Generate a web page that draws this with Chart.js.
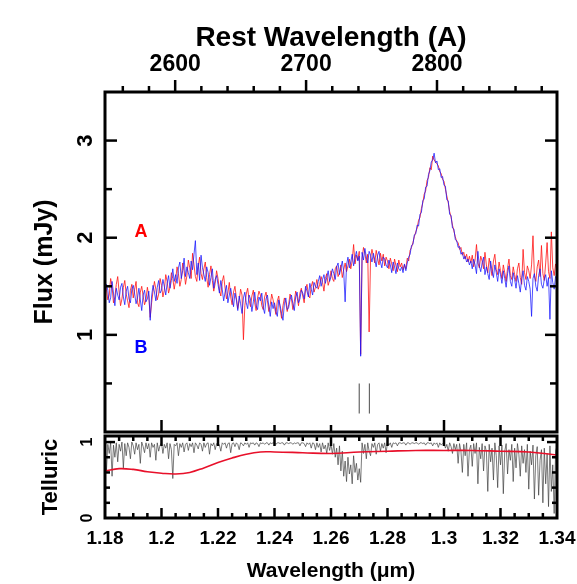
<!DOCTYPE html>
<html>
<head>
<meta charset="utf-8">
<script src="https://cdn.jsdelivr.net/npm/chart.js@4.4.1/dist/chart.umd.min.js"></script>
<style>
  html, body { margin: 0; padding: 0; background: #fff; }
  #wrap { position: relative; width: 577px; height: 584px; }
  canvas { position: absolute; left: 0; }
  #main { top: 0; }
  #tell { top: 434px; }
</style>
</head>
<body>
<div id="wrap">
  <canvas id="main" width="577" height="434"></canvas>
  <canvas id="tell" width="577" height="150"></canvas>
</div>
<script>
// Wavelength grid (microns): first sample and spacing of the spectra below
const lamStart = 1.18;
const lamStep = 0.0005;

// Spectrum A (red), mJy
const fluxA = [
  1.55,1.47,1.36,1.41,1.58,1.50,1.33,1.39,1.52,1.60,
  1.44,1.30,1.37,1.49,1.56,1.42,1.35,1.28,1.46,1.52,
  1.38,1.47,1.55,1.33,1.29,1.44,1.50,1.40,1.31,1.36,
  1.49,1.40,1.18,1.33,1.45,1.55,1.47,1.36,1.42,1.58,
  1.51,1.39,1.46,1.62,1.55,1.43,1.49,1.64,1.58,1.47,
  1.56,1.70,1.63,1.50,1.57,1.74,1.66,1.52,1.61,1.77,
  1.69,1.58,1.84,1.72,1.60,1.55,1.71,1.80,1.63,1.57,
  1.68,1.75,1.59,1.49,1.62,1.71,1.56,1.45,1.53,1.66,
  1.58,1.46,1.40,1.55,1.61,1.48,1.37,1.43,1.54,1.39,
  1.31,1.44,1.50,1.38,1.27,1.35,1.47,1.41,0.95,1.30,
  1.42,1.48,1.36,1.29,1.40,1.46,1.33,1.25,1.38,1.45,
  1.41,1.30,1.26,1.39,1.44,1.35,1.24,1.31,1.42,1.36,
  1.29,1.21,1.35,1.40,1.27,1.17,1.30,1.38,1.33,1.24,
  1.31,1.42,1.37,1.26,1.34,1.45,1.39,1.30,1.43,1.48,
  1.40,1.33,1.47,1.52,1.41,1.38,1.50,1.55,1.44,1.49,
  1.57,1.47,1.52,1.60,1.54,1.45,1.58,1.63,1.51,1.56,
  1.66,1.58,1.55,1.68,1.71,1.60,1.64,1.72,1.59,1.67,
  1.74,1.65,1.71,1.78,1.68,1.76,1.93,1.73,1.82,1.77,
  1.86,0.80,1.78,1.90,1.84,1.74,1.83,1.03,1.79,1.88,
  1.81,1.74,1.87,1.79,1.72,1.84,1.76,1.83,1.71,1.80,
  1.76,1.68,1.79,1.73,1.66,1.78,1.71,1.65,1.77,1.70,
  1.74,1.67,1.72,1.68,1.79,1.76,1.87,1.90,1.95,2.01,
  2.06,2.10,2.18,2.21,2.30,2.36,2.45,2.48,2.59,2.62,
  2.72,2.70,2.84,2.80,2.78,2.76,2.74,2.68,2.66,2.60,
  2.58,2.50,2.43,2.36,2.27,2.21,2.13,2.07,2.01,1.96,
  1.95,1.88,1.90,1.82,1.85,1.78,1.83,1.75,1.81,1.74,
  1.82,1.70,1.77,1.93,1.74,1.69,1.81,1.76,1.68,1.85,
  1.72,1.64,1.79,1.70,1.61,1.76,1.83,1.67,1.62,1.75,
  1.66,1.58,1.72,1.64,1.55,1.69,1.78,1.61,1.57,1.70,
  1.62,1.55,1.68,1.74,1.59,1.52,1.88,1.64,1.57,1.71,
  1.66,1.58,1.72,2.02,1.61,1.55,1.70,1.77,1.60,1.92,
  1.63,1.56,1.74,1.95,1.65,1.58,2.06,1.69,1.61,1.73,
  1.66
];

// Spectrum B (blue), mJy
const fluxB = [
  1.40,1.52,1.46,1.33,1.38,1.55,1.43,1.30,1.48,1.41,
  1.36,1.49,1.53,1.39,1.31,1.45,1.50,1.37,1.33,1.47,
  1.51,1.42,1.32,1.38,1.48,1.36,1.25,1.41,1.46,1.34,
  1.37,1.45,1.15,1.40,1.51,1.44,1.35,1.49,1.56,1.43,
  1.46,1.57,1.50,1.41,1.53,1.61,1.48,1.56,1.68,1.55,
  1.62,1.53,1.69,1.75,1.58,1.66,1.79,1.60,1.70,1.64,
  1.58,1.76,1.67,1.83,1.97,1.62,1.74,1.56,1.82,1.69,
  1.62,1.55,1.70,1.64,1.51,1.59,1.68,1.48,1.57,1.61,
  1.52,1.43,1.56,1.47,1.35,1.44,1.51,1.33,1.41,1.48,
  1.39,1.29,1.43,1.36,1.25,1.40,1.32,1.22,1.38,1.44,
  1.33,1.27,1.41,1.37,1.24,1.34,1.44,1.30,1.26,1.39,
  1.35,1.43,1.28,1.22,1.37,1.41,1.29,1.19,1.34,1.27,
  1.33,1.24,1.19,1.36,1.30,1.22,1.15,1.32,1.38,1.26,
  1.28,1.36,1.41,1.32,1.25,1.39,1.44,1.33,1.37,1.46,
  1.43,1.37,1.50,1.45,1.39,1.53,1.47,1.41,1.54,1.50,
  1.48,1.55,1.61,1.50,1.57,1.62,1.53,1.59,1.66,1.55,
  1.60,1.68,1.63,1.57,1.70,1.74,1.62,1.69,1.76,1.65,
  1.34,1.72,1.80,1.69,1.75,1.83,1.71,1.79,1.86,1.76,
  1.81,0.78,1.85,1.77,1.89,1.80,1.74,1.86,1.82,1.75,
  1.84,1.77,1.70,1.82,1.86,1.75,1.69,1.80,1.78,1.72,
  1.69,1.77,1.72,1.64,1.75,1.70,1.63,1.74,1.68,1.66,
  1.70,1.64,1.73,1.66,1.74,1.80,1.83,1.92,1.93,2.03,
  2.04,2.13,2.12,2.24,2.26,2.38,2.40,2.52,2.53,2.65,
  2.69,2.78,2.80,2.87,2.77,2.79,2.70,2.71,2.62,2.63,
  2.54,2.53,2.39,2.38,2.24,2.23,2.10,2.09,1.98,1.97,
  1.90,1.91,1.83,1.85,1.78,1.81,1.75,1.78,1.72,1.76,
  1.68,1.78,1.72,1.63,1.86,1.71,1.65,1.74,1.80,1.62,
  1.70,1.63,1.57,1.76,1.66,1.59,1.72,1.64,1.55,1.68,
  1.62,1.53,1.66,1.58,1.49,1.63,1.71,1.55,1.50,1.64,
  1.57,1.48,1.61,1.53,1.44,1.58,1.66,1.51,1.46,1.60,
  1.55,1.47,1.19,1.58,1.63,1.50,1.45,1.61,1.68,1.52,
  1.48,1.57,1.62,1.50,1.59,1.16,1.66,1.54,1.47,1.60,
  1.58
];

// Atmospheric transmission on the same grid
const telluric = [
  0.99,0.62,0.97,0.85,1.00,0.55,0.96,0.80,0.99,0.74,
  0.97,0.88,1.00,0.66,0.98,0.82,0.99,0.93,0.78,1.00,
  0.95,0.84,0.99,0.90,0.97,0.72,1.00,0.94,0.86,0.99,
  0.91,0.98,0.80,0.99,0.93,0.97,0.76,0.99,0.88,0.96,
  0.99,0.85,0.97,0.92,0.99,0.78,0.98,0.90,0.52,0.97,
  0.95,0.99,0.82,0.98,0.93,0.99,0.87,0.97,0.99,0.89,
  0.98,0.94,0.99,0.86,0.99,0.96,0.91,0.99,0.97,0.88,
  0.99,0.93,0.98,0.99,0.84,0.98,0.95,0.99,0.90,0.98,
  0.99,0.96,0.88,0.99,0.97,0.99,0.92,0.98,0.99,0.86,
  0.98,0.99,0.94,0.99,0.97,0.90,0.99,0.98,0.95,0.99,
  0.97,0.99,0.93,0.99,0.98,0.99,0.96,0.99,0.98,0.94,
  0.99,0.98,0.99,0.97,0.99,0.99,0.96,0.99,0.98,0.99,
  0.99,0.97,0.99,0.99,0.98,0.99,0.99,0.96,0.99,0.99,
  0.98,0.99,0.99,0.97,0.99,0.98,0.99,0.99,0.95,0.99,
  0.99,0.98,0.94,0.99,0.97,0.99,0.92,0.99,0.98,0.90,
  0.99,0.93,0.98,0.87,0.99,0.91,0.96,0.85,0.99,0.89,
  0.97,0.84,0.98,0.80,0.92,0.70,0.95,0.62,0.88,0.55,
  0.75,0.48,0.80,0.58,0.70,0.45,0.82,0.60,0.72,0.50,
  0.65,0.47,0.99,0.85,0.97,0.78,0.99,0.88,0.82,0.98,
  0.93,0.99,0.84,0.97,0.99,0.88,0.98,0.92,0.99,0.86,
  0.99,0.96,0.99,0.93,0.99,0.98,0.99,0.95,0.99,0.99,
  0.98,0.99,0.99,0.96,0.99,0.99,0.97,0.99,0.99,0.98,
  0.99,0.99,0.97,0.99,0.99,0.98,0.99,0.96,0.99,0.99,
  0.98,0.99,0.95,0.99,0.97,0.99,0.93,0.99,0.96,0.98,
  0.99,0.92,0.97,0.88,0.99,0.94,0.85,0.98,0.90,0.97,
  0.72,0.98,0.88,0.60,0.97,0.82,0.99,0.55,0.90,0.96,
  0.68,0.98,0.85,0.99,0.45,0.93,0.78,0.98,0.62,0.95,
  0.88,0.35,0.97,0.74,0.92,0.50,0.99,0.82,0.40,0.95,
  0.70,0.96,0.32,0.88,0.98,0.58,0.90,0.76,0.97,0.48,
  0.92,0.66,0.98,0.84,0.55,0.95,0.72,0.90,0.60,0.97,
  0.38,0.88,0.70,0.96,0.25,0.82,0.94,0.30,0.76,0.90,
  0.20,0.92,0.45,0.85,0.15,0.95,0.35,0.70,0.06,0.88,
  0.95
];

// Smooth red curve in the telluric panel
const contLam = [1.18,1.185,1.19,1.195,1.20,1.205,1.21,1.215,1.22,1.225,1.23,1.235,1.24,1.25,1.26,1.27,1.28,1.29,1.30,1.31,1.32,1.33,1.34];
const contVal = [0.62,0.65,0.64,0.61,0.59,0.58,0.60,0.66,0.73,0.79,0.84,0.87,0.87,0.86,0.85,0.87,0.88,0.89,0.89,0.89,0.88,0.87,0.83];

// Two short grey markers under the absorption lines
const markLam = [1.2700, 1.2736];
const markFlux = [0.19, 0.50];

// Axis ranges and tick labels
const lamMin = 1.18, lamMax = 1.34;
const onePlusZ = 4.634;              // obs / rest
const restLabels = [2600, 2700, 2800];
const fluxLabels = [1, 2, 3];
const tellLabels = [0, 1];
const lamLabels = [1.18, 1.2, 1.22, 1.24, 1.26, 1.28, 1.3, 1.32, 1.34];

const FONT = 'Liberation Sans';

function series(vals) {
  return vals.map((v, i) => ({ x: lamStart + i * lamStep, y: v }));
}

function steps(a, b, step) {
  const out = [];
  for (let k = 0; a + k * step <= b + 1e-9; k++) out.push(+(a + k * step).toFixed(4));
  return out;
}

function seg(ctx, x1, y1, x2, y2) {
  ctx.beginPath();
  ctx.moveTo(x1, y1);
  ctx.lineTo(x2, y2);
  ctx.stroke();
}

function rotLabel(ctx, text, x, y, size) {
  ctx.save();
  ctx.translate(x, y);
  ctx.rotate(-Math.PI / 2);
  ctx.font = `bold ${size}px "${FONT}"`;
  ctx.fillStyle = '#000';
  ctx.textAlign = 'center';
  ctx.textBaseline = 'middle';
  ctx.fillText(text, 0, 0);
  ctx.restore();
}

const near = (v, list) => list.some(t => Math.abs(v - t) < 1e-6);

// Frame, inward/outward ticks and rotated y labels, PGPLOT style
const mainFrame = {
  id: 'mainFrame',
  afterDraw(chart) {
    const { ctx, chartArea: a, scales } = chart;
    const x = scales.x, y = scales.y, xr = scales.xTop;
    ctx.save();
    ctx.strokeStyle = '#000';
    ctx.lineWidth = 2.5;
    steps(1.20, 1.32, 0.02).forEach(v => {
      const px = x.getPixelForValue(v);
      seg(ctx, px, a.bottom, px, a.bottom - (near(v, [1.2, 1.3]) ? 12 : 7));
    });
    steps(2560, 2880, 20).forEach(v => {
      const px = xr.getPixelForValue(v);
      seg(ctx, px, a.top, px, a.top - (v % 100 === 0 ? 12 : 6));
    });
    steps(0.5, 3, 0.5).forEach(v => {
      const py = y.getPixelForValue(v);
      const len = Number.isInteger(v) ? 12 : 7;
      seg(ctx, a.left, py, a.left + len, py);
      seg(ctx, a.right, py, a.right - len, py);
    });
    ctx.lineWidth = 3;
    ctx.strokeRect(a.left, a.top, a.right - a.left, a.bottom - a.top);
    fluxLabels.forEach(v => rotLabel(ctx, String(v), 86, y.getPixelForValue(v), 22));

    ctx.font = `bold 18px "${FONT}"`;
    ctx.textAlign = 'center';
    ctx.textBaseline = 'middle';
    ctx.fillStyle = '#ff0000';
    ctx.fillText('A', x.getPixelForValue(1.1927), y.getPixelForValue(2.06));
    ctx.fillStyle = '#0000ff';
    ctx.fillText('B', x.getPixelForValue(1.1927), y.getPixelForValue(0.86));
    ctx.restore();
  }
};

const tellFrame = {
  id: 'tellFrame',
  afterDraw(chart) {
    const { ctx, chartArea: a, scales } = chart;
    const x = scales.x, y = scales.y;
    ctx.save();
    ctx.strokeStyle = '#000';
    ctx.lineWidth = 2.5;
    steps(1.185, 1.335, 0.005).forEach(v => {
      const px = x.getPixelForValue(v);
      const len = Math.abs(v * 50 - Math.round(v * 50)) < 1e-6 ? 10 : 5;
      seg(ctx, px, a.bottom, px, a.bottom - len);
      seg(ctx, px, a.top, px, a.top + len);
    });
    steps(0.2, 1, 0.2).forEach(v => {
      const py = y.getPixelForValue(v);
      const len = near(v, [1]) ? 10 : 5;
      seg(ctx, a.left, py, a.left + len, py);
      seg(ctx, a.right, py, a.right - len, py);
    });
    ctx.lineWidth = 3;
    ctx.strokeRect(a.left, a.top, a.right - a.left, a.bottom - a.top);
    tellLabels.forEach(v => rotLabel(ctx, String(v), 88, y.getPixelForValue(v), 16));
    ctx.restore();
  }
};

const hidden = {
  grid: { display: false },
  border: { display: false },
  ticks: { display: false }
};

new Chart(document.getElementById('main'), {
  type: 'line',
  data: {
    datasets: [
      { data: series(fluxB), borderColor: 'rgba(20,20,255,0.75)', borderWidth: 1 },
      { data: series(fluxA), borderColor: 'rgba(255,20,20,0.8)', borderWidth: 1 },
      { data: markFlux.map(v => ({ x: markLam[0], y: v })), borderColor: '#666', borderWidth: 1.2 },
      { data: markFlux.map(v => ({ x: markLam[1], y: v })), borderColor: '#666', borderWidth: 1.2 }
    ]
  },
  options: {
    responsive: false,
    devicePixelRatio: 1,
    animation: false,
    events: [],
    layout: { padding: { left: 0, right: 20, top: 0, bottom: 0 } },
    elements: { point: { radius: 0 }, line: { tension: 0 } },
    plugins: { legend: { display: false }, tooltip: { enabled: false } },
    scales: {
      x: {
        type: 'linear', min: lamMin, max: lamMax, ...hidden,
        afterFit: s => { s.height = 2; s.paddingLeft = 0; s.paddingRight = 0; }
      },
      xTop: {
        type: 'linear', position: 'top',
        min: lamMin * 1e4 / onePlusZ, max: lamMax * 1e4 / onePlusZ,
        grid: { display: false }, border: { display: false },
        afterBuildTicks: s => { s.ticks = restLabels.map(v => ({ value: v })); },
        ticks: {
          color: '#000', padding: 6, autoSkip: false, maxRotation: 0,
          font: { family: FONT, size: 23, weight: 'bold' },
          callback: v => String(v)
        },
        title: {
          display: true, text: 'Rest Wavelength (A)', color: '#000',
          font: { family: FONT, size: 28, weight: 'bold' },
          padding: { top: 21, bottom: 0 }
        },
        afterFit: s => { s.height = 92; s.paddingLeft = 0; s.paddingRight = 0; }
      },
      y: {
        type: 'linear', min: 0, max: 3.5, position: 'left', ...hidden,
        title: {
          display: true, text: 'Flux (mJy)', color: '#000',
          font: { family: FONT, size: 25, weight: 'bold' },
          padding: { top: 30, bottom: 0 }
        },
        afterFit: s => { s.width = 105; s.paddingTop = 0; s.paddingBottom = 0; }
      }
    }
  },
  plugins: [mainFrame]
});

new Chart(document.getElementById('tell'), {
  type: 'line',
  data: {
    datasets: [
      { data: contLam.map((v, i) => ({ x: v, y: contVal[i] })), borderColor: '#e8102a', borderWidth: 1.6, tension: 0.4 },
      { data: series(telluric), borderColor: 'rgba(60,60,60,0.85)', borderWidth: 0.8 }
    ]
  },
  options: {
    responsive: false,
    devicePixelRatio: 1,
    animation: false,
    events: [],
    layout: { padding: { left: 0, right: 20, top: 2, bottom: 0 } },
    elements: { point: { radius: 0 }, line: { tension: 0 } },
    plugins: { legend: { display: false }, tooltip: { enabled: false } },
    scales: {
      x: {
        type: 'linear', min: lamMin, max: lamMax,
        grid: { display: false }, border: { display: false },
        afterBuildTicks: s => { s.ticks = lamLabels.map(v => ({ value: v })); },
        ticks: {
          color: '#000', padding: 1, autoSkip: false, maxRotation: 0,
          font: { family: FONT, size: 19, weight: 'bold' },
          callback: v => String(Math.round(v * 100) / 100)
        },
        title: {
          display: true, text: 'Wavelength (μm)', color: '#000',
          font: { family: FONT, size: 21, weight: 'bold' },
          padding: { top: 0, bottom: 0 }
        },
        afterFit: s => { s.height = 66; s.paddingLeft = 0; s.paddingRight = 0; }
      },
      y: {
        type: 'linear', min: 0, max: 1.08, position: 'left', ...hidden,
        title: {
          display: true, text: 'Telluric', color: '#000',
          font: { family: FONT, size: 22, weight: 'bold' },
          padding: { top: 38, bottom: 0 }
        },
        afterFit: s => { s.width = 105; s.paddingTop = 0; s.paddingBottom = 0; }
      }
    }
  },
  plugins: [tellFrame]
});
</script>
</body>
</html>
